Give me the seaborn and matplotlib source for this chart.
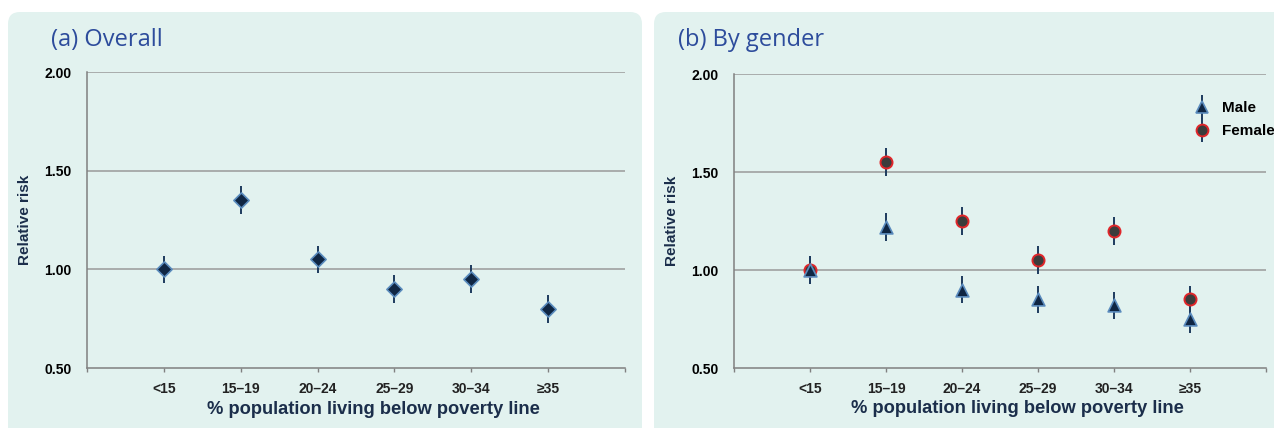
import numpy as np
import pandas as pd
import seaborn as sns
import matplotlib.pyplot as plt
from matplotlib.patches import FancyBboxPatch
from matplotlib.lines import Line2D

## Dados
categorias = ['<15', '15–19', '20–24', '25–29', '30–34', '≥35']
rr_total = [1.00, 1.35, 1.05, 0.90, 0.95, 0.80]
ic_total = [0.07, 0.07, 0.07, 0.07, 0.07, 0.07]
rr_homem = [1.00, 1.22, 0.90, 0.85, 0.82, 0.75]
ic_homem = [0.07, 0.07, 0.07, 0.07, 0.07, 0.07]
rr_mulher = [1.00, 1.55, 1.25, 1.05, 1.20, 0.85]
ic_mulher = [0.07, 0.07, 0.07, 0.07, 0.07, 0.07]
yticks = [0.50, 1.00, 1.50, 2.00]

sns.set_theme(style='white')
plt.rcParams['font.family'] = ['Liberation Sans', 'DejaVu Sans']

fundo = '#e2f2ef'
navy = '#0f2643'
borda_azul = '#5a8bbd'
barra = '#1d3b5e'
vermelho = '#e0262a'
cinza_pt = '#3c3c3c'
cor_texto = '#1b2e4b'
cor_tick = '#222222'
cor_titulo = '#2d4c9c'

fig = plt.figure(figsize=(12.74, 4.28), dpi=100)

## Fundo com cantos arredondados (coordenadas em pixels)
bg = fig.add_axes([0, 0, 1, 1])
bg.set_xlim(0, 1274)
bg.set_ylim(428, 0)
bg.axis('off')
for x0, x1 in [(8, 642), (654, 1300)]:
    bg.add_patch(FancyBboxPatch((x0, 12), x1 - x0, 440,
                                boxstyle='round,pad=0,rounding_size=12',
                                facecolor=fundo, edgecolor='none'))

fig.text(51 / 1274, 1 - 40 / 428, '(a) Overall', color=cor_titulo,
         fontsize=17, va='center', ha='left', family=['Open Sans', 'DejaVu Sans'])
fig.text(678 / 1274, 1 - 40 / 428, '(b) By gender', color=cor_titulo,
         fontsize=17, va='center', ha='left', family=['Open Sans', 'DejaVu Sans'])

ax1 = fig.add_axes([87 / 1274, 60 / 428, 538 / 1274, 296 / 428])
ax2 = fig.add_axes([734 / 1274, 60 / 428, 532 / 1274, 294 / 428])

pos = np.arange(1, len(categorias) + 1)


def estilo(ax):
    ax.set_facecolor('none')
    ax.set_xlim(0, 7)
    ax.set_ylim(0.5, 2.0)
    ax.set_yticks(yticks)
    ax.set_yticklabels(['%.2f' % v for v in yticks], fontsize=10,
                       fontweight='bold', color='black')
    ax.set_xticks(np.arange(0, 8))
    ax.set_xticklabels([''] + categorias + [''], fontsize=10,
                       fontweight='bold', color=cor_tick)
    ax.tick_params(axis='x', direction='out', length=3, width=1,
                   color='#808080', pad=7, bottom=True)
    ax.tick_params(axis='y', length=0, pad=11)
    for v in yticks[1:]:
        ax.axhline(v, color='#9a9a9a', lw=1.1, zorder=1)
    for s in ['top', 'right']:
        ax.spines[s].set_visible(False)
    for s in ['left', 'bottom']:
        ax.spines[s].set_color('#808080')
        ax.spines[s].set_linewidth(1.1)
    ax.set_xlabel('% population living below poverty line', fontsize=13.2,
                  fontweight='bold', color=cor_texto)
    ax.xaxis.set_label_coords(0.533, -0.11)
    ax.set_ylabel('Relative risk', fontsize=11, fontweight='bold',
                  color=cor_texto, labelpad=9)
    ax.grid(False)


## (a) Overall
df_a = pd.DataFrame({'pos': pos, 'rr': rr_total, 'ic': ic_total})
ax1.errorbar(df_a.pos, df_a.rr, yerr=df_a.ic, fmt='none', ecolor=barra,
             elinewidth=1.4, capsize=0, zorder=3)
sns.scatterplot(data=df_a, x='pos', y='rr', marker='D', s=60, color=navy,
                edgecolor=borda_azul, linewidth=1.2, zorder=4, ax=ax1)
estilo(ax1)

## (b) By gender
df_b = pd.DataFrame({
    'pos': np.concatenate([pos, pos]),
    'rr': rr_homem + rr_mulher,
    'ic': ic_homem + ic_mulher,
    'sexo': ['Male'] * len(pos) + ['Female'] * len(pos),
})
ax2.errorbar(df_b.pos, df_b.rr, yerr=df_b.ic, fmt='none', ecolor=barra,
             elinewidth=1.4, capsize=0, zorder=3)
fem = df_b[df_b.sexo == 'Female']
hom = df_b[df_b.sexo == 'Male']
sns.scatterplot(data=fem, x='pos', y='rr', marker='o', s=75, color=cinza_pt,
                edgecolor=vermelho, linewidth=1.4, zorder=4, ax=ax2)
sns.scatterplot(data=hom, x='pos', y='rr', marker='^', s=85, color=navy,
                edgecolor=borda_azul, linewidth=1.2, zorder=5, ax=ax2)
estilo(ax2)

## Legenda
barra_leg = Line2D([], [], marker='|', markersize=17, markeredgewidth=1.4,
                   color=barra, linestyle='none')
h_m = Line2D([], [], marker='^', markersize=8.5, color=navy,
             markeredgecolor=borda_azul, markeredgewidth=1.2, linestyle='none')
h_f = Line2D([], [], marker='o', markersize=8.5, color=cinza_pt,
             markeredgecolor=vermelho, markeredgewidth=1.4, linestyle='none')
leg = ax2.legend([(barra_leg, h_m), (barra_leg, h_f)], ['Male', 'Female'],
                 loc='upper left', bbox_to_anchor=(1195 / 1274, 1 - 101 / 428),
                 bbox_transform=fig.transFigure, frameon=False, fontsize=11,
                 handlelength=0.9, handletextpad=0.85, labelspacing=0.6,
                 borderpad=0, borderaxespad=0)
for t in leg.get_texts():
    t.set_fontweight('bold')
    t.set_color('black')

fig.savefig('out.png', dpi=100)
